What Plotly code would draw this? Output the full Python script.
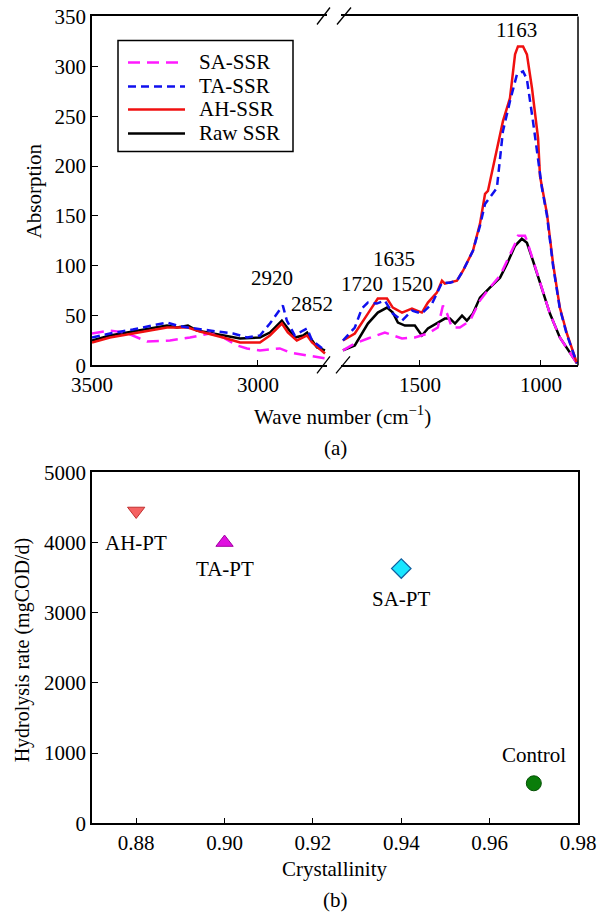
import plotly.graph_objects as go

# ---------------- Data ----------------
# Panel (a): FTIR spectra, two wavenumber windows (broken axis)
series_names = ["SA-SSR", "TA-SSR", "AH-SSR", "Raw SSR"]

# high-wavenumber window (3500-2800 cm-1)
sa_wn_hi = [3500, 3446, 3400, 3377, 3334, 3265, 3205, 3145, 3105, 3063, 3033, 2994, 2934, 2904, 2852, 2798]
sa_ab_hi = [32, 35, 33, 30, 24, 25, 28, 32, 28, 20, 17, 15, 17, 13, 10, 7]
ta_wn_hi = [3500, 3446, 3377, 3274, 3244, 3211, 3145, 3075, 3033, 2994, 2964, 2934, 2925, 2913, 2889, 2864, 2852, 2837, 2798]
ta_ab_hi = [28, 32, 36, 43, 40, 38, 35, 32, 28, 30, 42, 55, 60, 45, 30, 35, 37, 25, 15]
ah_wn_hi = [3500, 3446, 3377, 3274, 3211, 3175, 3105, 3054, 2994, 2964, 2928, 2910, 2883, 2852, 2837, 2798]
ah_ab_hi = [23, 28, 32, 38, 38, 34, 28, 23, 23, 30, 42, 33, 25, 30, 23, 12]
raw_wn_hi = [3500, 3446, 3377, 3274, 3244, 3211, 3184, 3105, 3054, 2994, 2964, 2928, 2913, 2889, 2864, 2852, 2843, 2822, 2798]
raw_ab_hi = [25, 30, 34, 40, 38, 40, 35, 30, 27, 28, 33, 45, 38, 28, 30, 33, 28, 18, 15]

# fingerprint window (1800-850 cm-1)
sa_wn_lo = [1818, 1769, 1715, 1645, 1574, 1521, 1467, 1426, 1405, 1388, 1368, 1335, 1293, 1252, 1211, 1169, 1140, 1107, 1095, 1066, 1058, 1033, 1004, 963, 922, 880, 851]
sa_ab_lo = [15, 22, 27, 33, 27, 28, 32, 38, 60, 52, 38, 38, 45, 65, 78, 90, 105, 122, 130, 130, 125, 106, 82, 52, 28, 12, 2]
ta_wn_lo = [1818, 1769, 1740, 1715, 1678, 1645, 1612, 1574, 1533, 1492, 1450, 1409, 1376, 1347, 1322, 1281, 1252, 1231, 1182, 1157, 1128, 1099, 1074, 1058, 1033, 996, 975, 950, 922, 893, 851]
ta_ab_lo = [25, 38, 57, 63, 62, 65, 52, 45, 55, 52, 62, 83, 83, 85, 95, 115, 140, 162, 178, 235, 265, 292, 295, 287, 245, 178, 150, 100, 57, 31, 2]
ah_wn_lo = [1818, 1769, 1715, 1674, 1636, 1612, 1574, 1533, 1492, 1467, 1430, 1409, 1397, 1376, 1347, 1322, 1281, 1252, 1231, 1219, 1198, 1157, 1128, 1107, 1095, 1074, 1058, 1037, 1012, 1004, 975, 950, 922, 893, 851]
ah_ab_lo = [25, 32, 52, 67, 67, 58, 53, 57, 53, 63, 73, 85, 82, 83, 85, 95, 115, 142, 172, 175, 198, 245, 268, 312, 320, 320, 312, 278, 228, 190, 152, 102, 58, 32, 2]
raw_wn_lo = [1818, 1769, 1715, 1674, 1636, 1612, 1591, 1562, 1521, 1492, 1467, 1426, 1397, 1376, 1355, 1326, 1306, 1281, 1252, 1211, 1169, 1140, 1107, 1079, 1058, 1033, 1004, 963, 922, 880, 851]
raw_ab_lo = [15, 20, 42, 53, 58, 53, 43, 40, 40, 30, 37, 43, 47, 47, 42, 50, 45, 52, 68, 78, 88, 102, 120, 127, 123, 105, 82, 52, 28, 12, 2]

peak_labels = ["2920", "2852", "1720", "1635", "1520", "1163"]

# Panel (b): hydrolysis rate vs crystallinity
samples = ["AH-PT", "TA-PT", "SA-PT", "Control"]
crystallinity = [0.88, 0.90, 0.94, 0.97]
hydrolysis_rate = [4450, 4000, 3630, 570]

# ---------------- Layout helpers ----------------
W, H = 598, 914
L, R = 92, 20
PW = W - L - R
# calibration of the photographed page (vertical offset / scale observed)
Y_OFF, Y_SC = 11.5, 0.974


def px(x):
    return (x - L) / PW


def py(y):
    return (H - (y - Y_OFF) / Y_SC) / H


FONT = "Liberation Serif, Times New Roman, Times, Nimbus Roman, DejaVu Serif, serif"
FS = 21

fig = go.Figure()

styles = {
    "SA-SSR": dict(color="#ff1aff", width=2.5, dash="12px,7px"),
    "TA-SSR": dict(color="#1010ee", width=2.5, dash="8px,5px"),
    "AH-SSR": dict(color="#f01010", width=2.5),
    "Raw SSR": dict(color="#000000", width=2.5),
}
hi = {"SA-SSR": (sa_wn_hi, sa_ab_hi), "TA-SSR": (ta_wn_hi, ta_ab_hi),
      "AH-SSR": (ah_wn_hi, ah_ab_hi), "Raw SSR": (raw_wn_hi, raw_ab_hi)}
lo = {"SA-SSR": (sa_wn_lo, sa_ab_lo), "TA-SSR": (ta_wn_lo, ta_ab_lo),
      "AH-SSR": (ah_wn_lo, ah_ab_lo), "Raw SSR": (raw_wn_lo, raw_ab_lo)}

draw_order = ["Raw SSR", "SA-SSR", "AH-SSR", "TA-SSR"]
for name in draw_order:
    fig.add_trace(go.Scatter(x=hi[name][0], y=hi[name][1], mode="lines", line=styles[name],
                             name=name, showlegend=False, xaxis="x", yaxis="y"))
for name in draw_order:
    fig.add_trace(go.Scatter(x=lo[name][0], y=lo[name][1], mode="lines", line=styles[name],
                             name=name, showlegend=False, xaxis="x2", yaxis="y"))

# Panel (b) markers
marker_styles = [
    dict(symbol="triangle-down", color="#f56262", size=15, line=dict(color="#c03030", width=1)),
    dict(symbol="triangle-up", color="#e010e0", size=15, line=dict(color="#a000a0", width=1)),
    dict(symbol="diamond", color="#19e6ff", size=15, line=dict(color="#1060a0", width=1.2)),
    dict(symbol="circle", color="#0a7d0a", size=15, line=dict(color="#045004", width=1)),
]
for i, s in enumerate(samples):
    fig.add_trace(go.Scatter(x=[crystallinity[i]], y=[hydrolysis_rate[i]], mode="markers",
                             marker=marker_styles[i], showlegend=False, name=s,
                             xaxis="x3", yaxis="y3"))

# axes geometry
top_dom = [py(365), py(16)]
bot_dom = [py(823), py(472)]
x1_dom = [0, px(327)]
x2_dom = [px(341), 1]

axis_common = dict(showgrid=False, zeroline=False, showline=True, linecolor="black", linewidth=1.5,
                   ticks="inside", ticklen=6, tickwidth=1.3, tickcolor="black",
                   ticklabeloverflow="allow",
                   tickfont=dict(family=FONT, size=FS, color="black"))

fig.update_layout(
    width=W, height=H,
    margin=dict(l=L, r=R, t=0, b=0),
    paper_bgcolor="white", plot_bgcolor="white",
    font=dict(family=FONT, size=FS, color="black"),
    showlegend=False,
    xaxis=dict(domain=x1_dom, range=[3500, 2792], anchor="y", tickvals=[3500, 3000],
               mirror=True, **axis_common),
    xaxis2=dict(domain=x2_dom, range=[1826, 847], anchor="y", tickvals=[1500, 1000],
                mirror=True, **axis_common),
    yaxis=dict(domain=top_dom, range=[0, 350], anchor="x", tickvals=list(range(0, 351, 50)),
               **axis_common),
    xaxis3=dict(domain=[0, 1], range=[0.87, 0.98], anchor="y3",
                tickvals=[0.88, 0.90, 0.92, 0.94, 0.96, 0.98], tickformat=".2f",
                mirror=True, **axis_common),
    yaxis3=dict(domain=bot_dom, range=[0, 5000], anchor="x3",
                tickvals=[0, 1000, 2000, 3000, 4000, 5000], mirror=True, **axis_common),
)

# right border of panel (a)
shapes = [dict(type="line", xref="paper", yref="paper", x0=1, x1=1, y0=top_dom[0], y1=top_dom[1],
               line=dict(color="black", width=1.5))]
# axis break marks
for (x0, y0, x1, y1) in [(317, 373, 330, 356), (336, 373, 350, 356),
                         (317, 24, 330, 7), (337, 24, 351, 7)]:
    shapes.append(dict(type="line", xref="paper", yref="paper",
                       x0=px(x0), y0=py(y0), x1=px(x1), y1=py(y1),
                       line=dict(color="black", width=1.3)))

# hand-drawn legend box (long line samples as in the original)
shapes.append(dict(type="rect", xref="paper", yref="paper",
                   x0=px(118), x1=px(293), y0=py(151), y1=py(40),
                   line=dict(color="black", width=1.5), fillcolor="white", layer="above"))
legend_rows = [62, 86, 109, 133]
ann = []
for name, ry in zip(series_names, legend_rows):
    st = styles[name]
    shapes.append(dict(type="line", xref="paper", yref="paper",
                       x0=px(128), x1=px(185), y0=py(ry), y1=py(ry),
                       line=dict(color=st["color"], width=st["width"], dash=st.get("dash", "solid")),
                       layer="above"))
    ann.append(dict(text=name, x=px(197), y=py(ry), xref="paper", yref="paper", showarrow=False,
                    xanchor="left", yanchor="middle",
                    font=dict(family=FONT, size=FS, color="black")))
fig.update_layout(shapes=shapes)

# peak labels (data coordinates)
peak_pos = [("x", 2958, 88), ("x", 2837, 62), ("x2", 1740, 82), ("x2", 1607, 107),
            ("x2", 1533, 82), ("x2", 1099, 336)]
for lab, (xr, xv, yv) in zip(peak_labels, peak_pos):
    ann.append(dict(text=lab, x=xv, y=yv, xref=xr, yref="y", showarrow=False,
                    font=dict(family=FONT, size=FS, color="black")))
# sample labels panel (b)
label_pos = [(0.88, 4000), (0.90, 3620), (0.94, 3200), (0.97, 970)]
for s, (xv, yv) in zip(samples, label_pos):
    ann.append(dict(text=s, x=xv, y=yv, xref="x3", yref="y3", showarrow=False,
                    font=dict(family=FONT, size=FS, color="black")))
# titles
titles = [
    ("Absorption", px(34), py(191), -90, FS),
    ("Wave number (cm<sup>−1</sup>)", px(342), py(415), 0, FS),
    ("(a)", px(335), py(448), 0, FS),
    ("Hydrolysis rate (mgCOD/d)", px(22), py(650), -90, 20),
    ("Crystallinity", px(335), py(869), 0, FS),
    ("(b)", px(335), py(900), 0, FS),
]
for t, xv, yv, rot, fs in titles:
    ann.append(dict(text=t, x=xv, y=yv, xref="paper", yref="paper", showarrow=False,
                    textangle=rot, xanchor="center", yanchor="middle",
                    font=dict(family=FONT, size=fs, color="black")))
fig.update_layout(annotations=ann)

fig.write_html("out.html", config={"displayModeBar": False},
               post_script="document.body.style.margin='0px';document.body.style.padding='0px';"
                           "document.body.style.overflow='hidden';")
